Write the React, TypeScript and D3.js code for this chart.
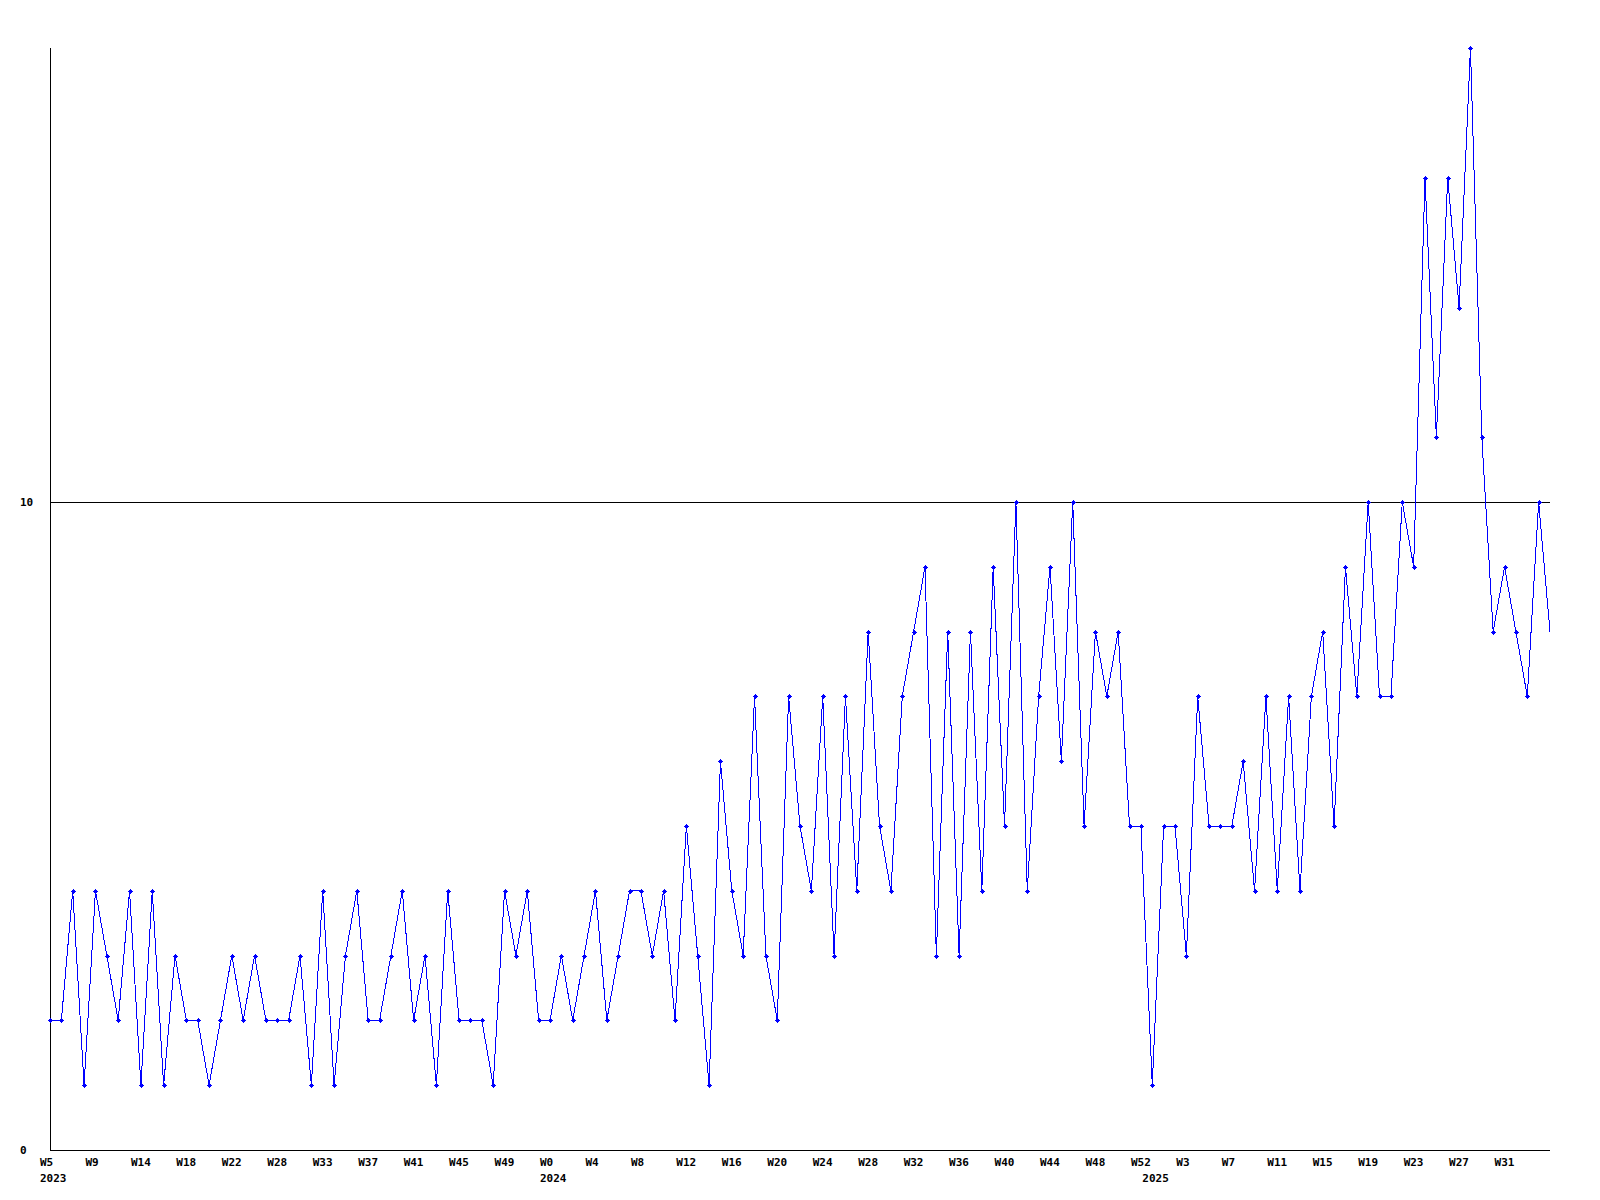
import React from "react";
import * as d3 from "d3";

const values: number[] = [
  2, 2, 4, 1, 4, 3, 2, 4, 1, 4, 1, 3, 2, 2, 1, 2, 3, 2, 3, 2,
  2, 2, 3, 1, 4, 1, 3, 4, 2, 2, 3, 4, 2, 3, 1, 4, 2, 2, 2, 1,
  4, 3, 4, 2, 2, 3, 2, 3, 4, 2, 3, 4, 4, 3, 4, 2, 5, 3, 1, 6,
  4, 3, 7, 3, 2, 7, 5, 4, 7, 3, 7, 4, 8, 5, 4, 7, 8, 9, 3, 8,
  3, 8, 4, 9, 5, 10, 4, 7, 9, 6, 10, 5, 8, 7, 8, 5, 5, 1, 5, 5,
  3, 7, 5, 5, 5, 6, 4, 7, 4, 7, 4, 7, 8, 5, 9, 7, 10, 7, 7, 10,
  9, 15, 11, 15, 13, 17, 11, 8, 9, 8, 7, 10, 8,
];

const weekLabels: string[] = [
  "W5", "W9", "W14", "W18", "W22", "W28", "W33", "W37", "W41", "W45", "W49",
  "W0", "W4", "W8", "W12", "W16", "W20", "W24", "W28", "W32", "W36", "W40",
  "W44", "W48", "W52", "W3", "W7", "W11", "W15", "W19", "W23", "W27", "W31",
];
const weekLabelStep = 4;

const yearLabels: string[] = ["2023", "2024", "2025"];
const yearLabelIndex: number[] = [0, 44, 97];

const yTicks: number[] = [0, 10];
const yMax = 17;

export default function App() {
  const W = 1600;
  const H = 1200;
  const x = d3.scaleLinear().domain([0, values.length - 1]).range([50, 1550]);
  const y = d3.scaleLinear().domain([0, 10]).range([1150, 502]);
  const line = d3
    .line<number>()
    .x((_, i) => x(i))
    .y((d) => y(d));
  const font = "'DejaVu Sans Mono', monospace";
  const [x0, x1] = x.range();

  return (
    <svg
      width={W}
      height={H}
      style={{ position: "absolute", left: 0, top: 0, background: "#fff" }}
    >
      <rect x={0} y={0} width={W} height={H} fill="#fff" />
      {/* gridline at 10 */}
      {yTicks
        .filter((t) => t !== 0)
        .map((t) => (
          <line
            key={"g" + t}
            x1={x0}
            x2={x1}
            y1={Math.round(y(t)) + 0.5}
            y2={Math.round(y(t)) + 0.5}
            stroke="#000"
            strokeWidth={1}
            shapeRendering="crispEdges"
          />
        ))}
      {/* axes */}
      <line
        x1={x0 + 0.5}
        x2={x0 + 0.5}
        y1={Math.round(y(yMax))}
        y2={y(0) + 0.5}
        stroke="#000"
        strokeWidth={1}
        shapeRendering="crispEdges"
      />
      <line
        x1={x0}
        x2={x1}
        y1={y(0) + 0.5}
        y2={y(0) + 0.5}
        stroke="#000"
        strokeWidth={1}
        shapeRendering="crispEdges"
      />
      {/* y labels */}
      {yTicks.map((t) => (
        <text
          key={"yt" + t}
          x={20}
          y={y(t) + 4}
          fontFamily={font}
          fontWeight="bold"
          fontSize={11}
          fill="#000"
        >
          {t}
        </text>
      ))}
      {/* week labels */}
      {weekLabels.map((l, k) => (
        <text
          key={"w" + k}
          x={x(k * weekLabelStep) - 10}
          y={1166}
          fontFamily={font}
          fontWeight="bold"
          fontSize={11}
          fill="#000"
        >
          {l}
        </text>
      ))}
      {yearLabels.map((l, k) => (
        <text
          key={"yr" + k}
          x={x(yearLabelIndex[k]) - 10}
          y={1182}
          fontFamily={font}
          fontWeight="bold"
          fontSize={11}
          fill="#000"
        >
          {l}
        </text>
      ))}
      {/* data line */}
      <path
        d={line(values) || ""}
        fill="none"
        stroke="#0000ff"
        strokeWidth={1}
        shapeRendering="crispEdges"
      />
      {/* markers */}
      {values.slice(0, values.length - 1).map((v, i) => {
        const cx = Math.round(x(i));
        const cy = Math.round(y(v));
        return (
          <g key={"m" + i} fill="#0000ff" shapeRendering="crispEdges">
            <rect x={cx - 2} y={cy} width={5} height={1} />
            <rect x={cx} y={cy - 2} width={1} height={5} />
            <rect x={cx - 1} y={cy - 1} width={3} height={3} />
          </g>
        );
      })}
    </svg>
  );
}
